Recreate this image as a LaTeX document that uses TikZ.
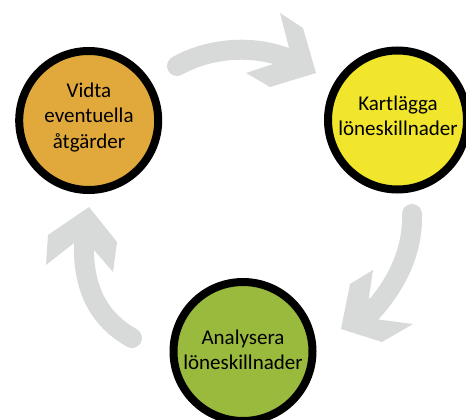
\documentclass[tikz,border=0pt]{standalone}
\usepackage{fontspec}
\setmainfont{Carlito}
\definecolor{orangeC}{RGB}{225,169,59}
\definecolor{yellowC}{RGB}{241,230,44}
\definecolor{greenC}{RGB}{154,186,62}
\definecolor{grayA}{RGB}{216,217,217}
\begin{document}
\begin{tikzpicture}[x=1pt,y=-1pt,
  stage/.style={circle, draw=black, line width=8pt, minimum size=139pt, inner sep=0pt},
  lbl/.style={align=center, font=\fontsize{21}{25.5}\selectfont, inner sep=0pt},
  shaft/.style={draw=grayA, line width=20pt, line cap=round},
  head/.style={fill=grayA, draw=none}]
\useasboundingbox (0,0) rectangle (466,420);
% arrows
\coordinate (a1) at (177,66);
\coordinate (a2) at (292,60);
\draw[shaft] (a1) .. controls (205,50) and (250,42) .. (a2);
\fill[head] (289,48) -- (280,13) -- (303,28) -- (316,73) -- (270,87) -- (246,73) -- (273,64) -- cycle;
\coordinate (b1) at (412,214);
\coordinate (b2) at (366,318);
\draw[shaft] (b1) .. controls (413,250) and (398,285) .. (b2);
\fill[head] (369,297) -- (373,270) -- (350,284) -- (341,329) -- (382,342) -- (413,324) -- (375,319) -- cycle;
\coordinate (c1) at (132,338);
\coordinate (c2) at (84,240);
\draw[shaft] (c1) .. controls (100,320) and (82,290) .. (c2);
\fill[head] (74,243) -- (46,265) -- (48,235) -- (89,207) -- (117,242) -- (113,272) -- (94,250) -- cycle;
% circles
\node[stage, fill=orangeC] (vidta) at (88.7,120.5) {};
\node[stage, fill=yellowC] (kart) at (397.5,120) {};
\node[stage, fill=greenC] (anal) at (243,351.5) {};
\node[lbl] (tv) at (89,117.4) {Vidta\\eventuella\\åtgärder};
\node[lbl] (tk) at (398,115.8) {Kartlägga\\löneskillnader};
\node[lbl] (ta) at (243,350) {Analysera\\löneskillnader};
\end{tikzpicture}
\end{document}
